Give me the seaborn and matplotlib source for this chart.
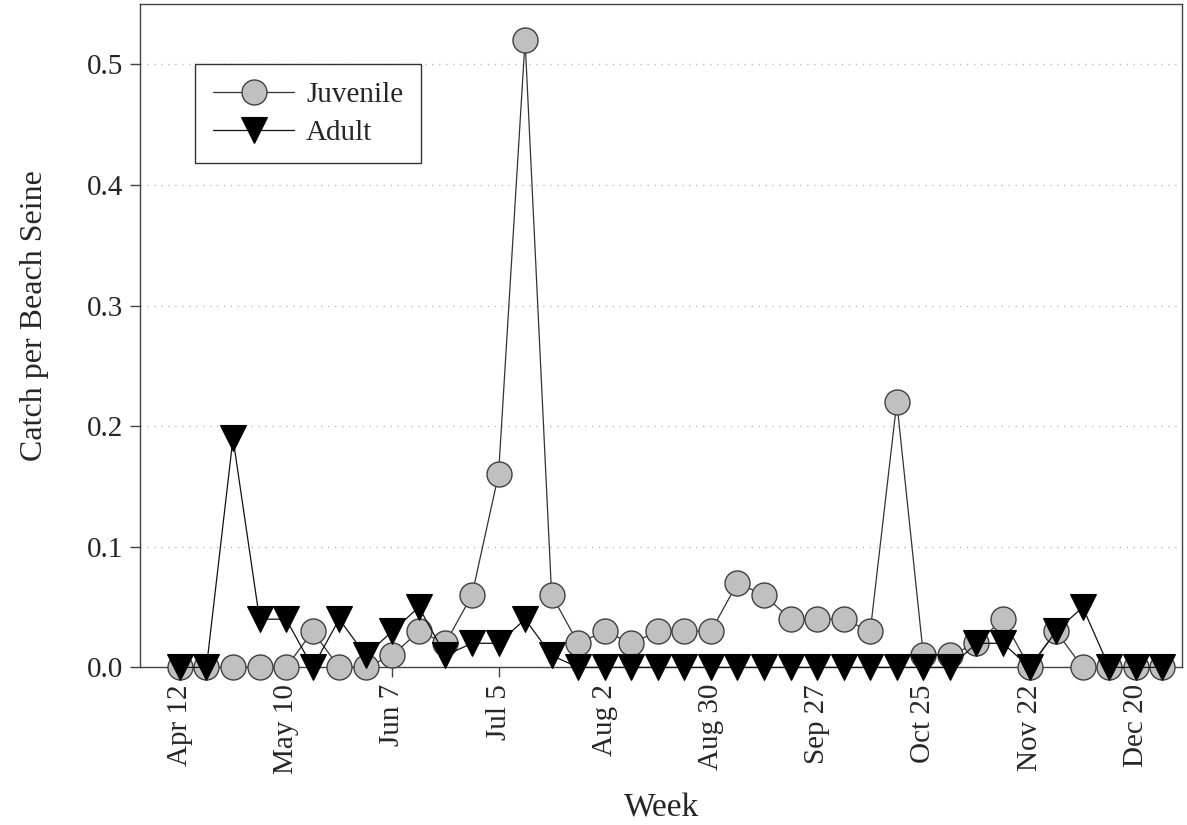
import numpy as np
import pandas as pd
import matplotlib
matplotlib.use("Agg")
import matplotlib.pyplot as plt
import seaborn as sns

# weekly sampling, Apr 12 to Dec 27 (38 weeks)
weeks = list(range(38))
tick_weeks = [0, 4, 8, 12, 16, 20, 24, 28, 32, 36]
tick_labels = ['Apr 12', 'May 10', 'Jun 7', 'Jul 5', 'Aug 2',
               'Aug 30', 'Sep 27', 'Oct 25', 'Nov 22', 'Dec 20']

juvenile = [0, 0, 0, 0, 0, 0.03, 0, 0, 0.01, 0.03, 0.02, 0.06, 0.16, 0.52, 0.06, 0.02,
            0.03, 0.02, 0.03, 0.03, 0.03, 0.07, 0.06, 0.04, 0.04, 0.04, 0.03, 0.22,
            0.01, 0.01, 0.02, 0.04, 0, 0.03, 0, 0, 0, 0]
adult = [0, 0, 0.19, 0.04, 0.04, 0, 0.04, 0.01, 0.03, 0.05, 0.01, 0.02, 0.02, 0.04, 0.01, 0,
         0, 0, 0, 0, 0, 0, 0, 0, 0, 0, 0, 0, 0, 0,
         0.02, 0.02, 0, 0.03, 0.05, 0, 0, 0]

sns.set_style("white")
plt.rcParams['font.family'] = ['Liberation Serif', 'DejaVu Serif']

fig, ax = plt.subplots(figsize=(11.87, 8.25), dpi=100)
fig.subplots_adjust(left=0.118, right=0.996, bottom=0.191, top=0.995)

sns.lineplot(x=weeks, y=juvenile, ax=ax, color='#333333', linewidth=0.9,
             marker='o', markersize=18, markerfacecolor='#c0c0c0',
             markeredgecolor='#404040', markeredgewidth=1.0,
             label='Juvenile', clip_on=False, zorder=3)
sns.lineplot(x=weeks, y=adult, ax=ax, color='#111111', linewidth=0.9,
             marker='v', markersize=19, markerfacecolor='black',
             markeredgecolor='black', markeredgewidth=0.8,
             label='Adult', clip_on=False, zorder=4)

ax.set_xlim(-1.5, 37.75)
ax.set_ylim(0, 0.55)
ax.set_yticks([0.0, 0.1, 0.2, 0.3, 0.4, 0.5])
ax.set_yticklabels(['0.0', '0.1', '0.2', '0.3', '0.4', '0.5'], fontsize=21)
ax.set_xticks(tick_weeks)
ax.set_xticklabels(tick_labels, rotation=90, fontsize=21)

ax.yaxis.grid(True, linestyle=(0, (1, 4)), color='#bbbbbb', linewidth=1)
ax.set_axisbelow(True)
ax.tick_params(axis='both', direction='out', length=7, width=1, color='#444444',
               bottom=True, left=True, pad=5)
for sp in ax.spines.values():
    sp.set_color('#444444')
    sp.set_linewidth(1)

ax.set_xlabel('Week', fontsize=24, labelpad=14)
ax.set_ylabel('Catch per Beach Seine', fontsize=23)
ax.yaxis.set_label_coords(-0.087, 0.53)

leg = ax.legend(loc='upper left', bbox_to_anchor=(0.053, 0.91), borderaxespad=0,
                fontsize=21, frameon=True, fancybox=False, handlelength=2.8,
                borderpad=0.6, labelspacing=0.4, handletextpad=0.4)
leg.get_frame().set_edgecolor('black')
leg.get_frame().set_linewidth(1)

plt.savefig('out.png', dpi=100)
plt.close()
